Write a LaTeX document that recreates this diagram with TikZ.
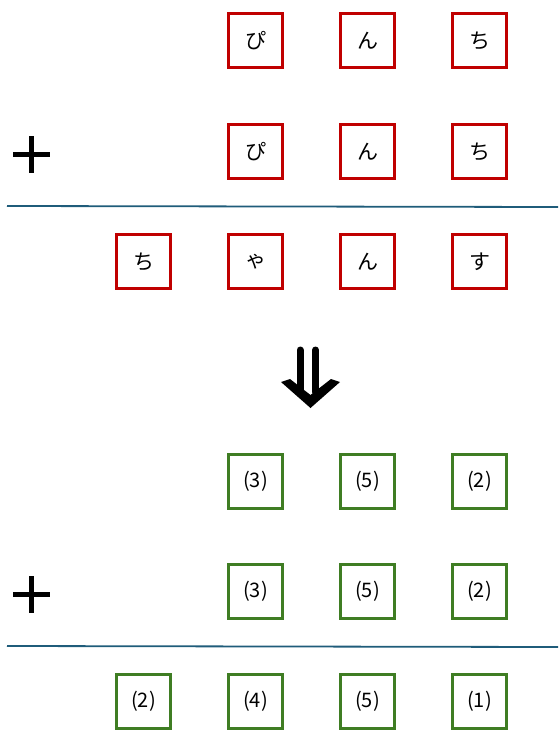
\documentclass[tikz,border=0pt]{standalone}
\usepackage{fontspec}
\newfontfamily\jpfont{Noto Sans CJK JP}
\definecolor{boxred}{HTML}{C00000}
\definecolor{boxgreen}{HTML}{3F7D23}
\definecolor{rulecol}{HTML}{1F5C7A}
\tikzset{
  kana/.style={draw=boxred, line width=2.8pt, minimum size=54pt, inner sep=0pt, font=\jpfont\fontsize{21}{21}\selectfont},
  digit/.style={draw=boxgreen, line width=2.8pt, minimum size=54pt, inner sep=0pt, font=\jpfont\fontsize{20}{20}\selectfont},
  plussign/.style={line width=4.2pt},
  sumrule/.style={draw=rulecol, line width=1.8pt}
}

\begin{document}
\begin{tikzpicture}[x=1pt,y=-1pt]
\useasboundingbox (0,0) rectangle (558,752);
% top: kana sum
\node[kana] (p1) at (255.5,40.5) {ぴ};
\node[kana] (n1) at (367.5,40.5) {ん};
\node[kana] (c1) at (479.5,40.5) {ち};
\node[kana] (p2) at (255.5,151.5) {ぴ};
\node[kana] (n2) at (367.5,151.5) {ん};
\node[kana] (c2) at (479.5,151.5) {ち};
\node[kana] (r1) at (143.5,261.5) {ち};
\node[kana] (r2) at (255.5,261.5) {ゃ};
\node[kana] (r3) at (367.5,261.5) {ん};
\node[kana] (r4) at (479.5,261.5) {す};
\draw[plussign] (13,154.5)--(50,154.5);
\draw[plussign] (31.5,136)--(31.5,173);
\coordinate (ruleAw) at (7,206);
\coordinate (ruleAe) at (558,207);
\draw[sumrule] (ruleAw)--(ruleAe);
% arrow
\draw[line width=7pt, line cap=round] (300,350)--(300,392);
\draw[line width=7pt, line cap=round] (315.5,350)--(315.5,392);
\fill (281,382)--(310.5,408)--(340,382)--(331,379)--(310.5,395)--(290,379)--cycle;
% bottom: digit sum
\node[digit] (d1) at (255.5,481.5) {(3)};
\node[digit] (d2) at (367.5,481.5) {(5)};
\node[digit] (d3) at (479.5,481.5) {(2)};
\node[digit] (e1) at (255.5,591.5) {(3)};
\node[digit] (e2) at (367.5,591.5) {(5)};
\node[digit] (e3) at (479.5,591.5) {(2)};
\node[digit] (s1) at (143.5,701.5) {(2)};
\node[digit] (s2) at (255.5,701.5) {(4)};
\node[digit] (s3) at (367.5,701.5) {(5)};
\node[digit] (s4) at (479.5,701.5) {(1)};
\draw[plussign] (13,594.5)--(50,594.5);
\draw[plussign] (31.5,576)--(31.5,613);
\coordinate (ruleBw) at (7,646);
\coordinate (ruleBe) at (558,647);
\draw[sumrule] (ruleBw)--(ruleBe);
\end{tikzpicture}
\end{document}
